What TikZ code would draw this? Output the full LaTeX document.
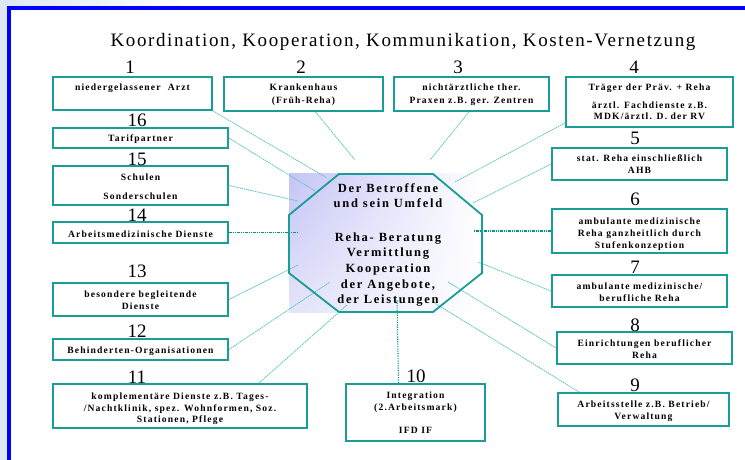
\documentclass[tikz,border=0pt]{standalone}
\usepackage{fontspec}
\usetikzlibrary{shadings}
\newfontfamily\titf[LetterSpace=8.5]{Liberation Serif}
\newfontfamily\bxf[LetterSpace=12]{Liberation Serif}
\newfontfamily\octf[LetterSpace=14]{Liberation Serif}
\newfontfamily\numf{Liberation Serif}
\definecolor{boxc}{RGB}{24,158,150}
\definecolor{conc}{RGB}{95,196,196}
\definecolor{dconc}{RGB}{0,146,146}
\definecolor{lav}{RGB}{196,196,246}
\definecolor{lavl}{RGB}{228,228,250}
\definecolor{bgl}{RGB}{222,232,242}
\definecolor{frame}{RGB}{0,0,250}
\newcommand\bx[5]{\node[box, minimum width={#4-#2}, minimum height={#5-#3}] (#1) at ({(#2+#4)/2},{(#3+#5)/2}) {};}
\newcommand\tl[4]{\node[txt] (#1) at (#2,#3) {#4};}
\newcommand\nm[4]{\node[num] (#1) at (#2,#3) {#4};}
\newcommand\ol[4]{\node[otxt] (#1) at (#2,#3) {#4};}
\begin{document}
\begin{tikzpicture}[x=1pt,y=-1pt,
  box/.style={draw=boxc, line width=1.8pt, rectangle, inner sep=0pt, fill=white},
  txt/.style={font=\bxf\bfseries\fontsize{9.6}{12}\selectfont, inner sep=0pt, anchor=base},
  num/.style={font=\numf\fontsize{19}{20}\selectfont, inner sep=0pt, anchor=base},
  otxt/.style={font=\octf\bfseries\fontsize{12.5}{15}\selectfont, inner sep=0pt, anchor=base},
  con/.style={draw=conc, line width=0.8pt, dash pattern=on 1.5pt off 0.7pt},
  dcon/.style={draw=dconc, line width=1.1pt, dash pattern=on 3pt off 1pt on 1pt off 1pt on 1pt off 1pt},
  dotcon/.style={draw=dconc, line width=1.1pt, dash pattern=on 1.2pt off 1.2pt}]
\useasboundingbox (0,0) rectangle (745,460);
\fill[white] (0,0) rectangle (745,460);
\shade[left color=bgl, right color=white] (0,0) rectangle (200,7);
\fill[bgl] (0,0) rectangle (8,460);
\draw[frame, line width=4pt, line join=miter] (9,460) -- (9,8) -- (745,8);

% title
\node[font=\titf\fontsize{19}{20}\selectfont, inner sep=0pt, anchor=base] (title) at (403,47) {Koordination, Kooperation, Kommunikation, Kosten-Vernetzung};

% octagon background shading
\shade[upper left=lav, upper right=white, lower left=lavl, lower right=white] (289,173) rectangle (482,312);

% named inner end points
\coordinate (c1) at (327,178);
\coordinate (c16) at (315,191);
\coordinate (c15) at (298,201);
\coordinate (c14) at (298,232.5);
\coordinate (c2) at (355,160);
\coordinate (c3) at (430,160);
\coordinate (c4) at (455,182);
\coordinate (c5) at (473,203);
\coordinate (c6) at (474,231);
\coordinate (c7) at (478,262);
\coordinate (c8) at (448,282);
\coordinate (c9) at (433,302);
\coordinate (c10) at (397,300);
\coordinate (c11) at (347,305);
\coordinate (c12) at (330,282);
\coordinate (c13) at (298,265);

% boxes
\bx{b1}{53}{77}{212}{110}
\bx{b2}{224}{77}{383}{111}
\bx{b3}{394}{77}{549}{111}
\bx{b4}{566}{77}{733}{127}
\bx{b16}{53}{128}{228}{148}
\bx{b15}{53}{166}{228}{205}
\bx{b14}{53}{222}{228}{243}
\bx{b5}{552}{148}{727}{180}
\bx{b6}{552}{209}{727}{253}
\bx{b7}{552}{275}{727}{307}
\bx{b13}{53}{283}{228}{316}
\bx{b12}{53}{339}{228}{360}
\bx{b11}{53}{384}{307}{428}
\bx{b10}{346}{384}{485}{441}
\bx{b8}{557}{332}{732}{364}
\bx{b9}{558}{393}{729}{426}

% connectors
\draw[con] (b1.south east) -- (c1);
\draw[con] (b16.east) -- (c16);
\draw[con] (b15.east) -- (c15);
\draw[dcon] (b14.east) -- (c14);
\draw[con] ([xshift=12pt]b2.south) -- (c2);
\draw[con] ([xshift=-2.5pt]b3.south) -- (c3);
\draw[con] ([yshift=5pt]b4.south west) -- (c4);
\draw[con] (b5.west) -- (c5);
\draw[dcon] (b6.west) -- (c6);
\draw[con] (b7.west) -- (c7);
\draw[con] (b8.west) -- (c8);
\draw[con] ([xshift=22pt]b9.north west) -- (c9);
\draw[dotcon] ([xshift=-17pt]b10.north) -- (c10);
\draw[con] ([xshift=-49pt]b11.north east) -- (c11);
\draw[con] (b12.east) -- (c12);
\draw[con] (b13.east) -- (c13);

% octagon
\draw[boxc, line width=1.8pt, line join=miter] (339,174) coordinate (o1) -- (433,174) coordinate (o2) -- (482,215) coordinate (o3) -- (482,273) coordinate (o4) -- (433,312) coordinate (o5) -- (339,312) coordinate (o6) -- (289,273) coordinate (o7) -- (289,215) coordinate (o8) -- cycle;

\ol{oa}{388}{192}{Der Betroffene}
\ol{ob}{388}{207.5}{und sein Umfeld}
\ol{oc}{388}{241}{Reha- Beratung}
\ol{od}{388}{256.5}{Vermittlung}
\ol{oe}{388}{272}{Kooperation}
\ol{of}{388}{288}{der Angebote,}
\ol{og}{388}{303.5}{der Leistungen}

% numbers
\nm{n1}{130}{74}{1}
\nm{n2}{301}{74}{2}
\nm{n3}{458}{74}{3}
\nm{n4}{634}{74}{4}
\nm{n16}{137}{127}{16}
\nm{n15}{137}{165}{15}
\nm{n14}{137}{221}{14}
\nm{n13}{137}{277}{13}
\nm{n12}{137}{337}{12}
\nm{n11}{137}{383}{11}
\nm{n10}{416}{382}{10}
\nm{n5}{635}{144}{5}
\nm{n6}{635}{205}{6}
\nm{n7}{635}{273}{7}
\nm{n8}{635}{331}{8}
\nm{n9}{635}{391}{9}

% box texts
\tl{t1}{132.5}{91}{niedergelassener\ \ Arzt}
\tl{t2a}{303.5}{91}{Krankenhaus}
\tl{t2b}{303.5}{103}{(Früh-Reha)}
\tl{t3a}{471.5}{91}{nichtärztliche ther.}
\tl{t3b}{471.5}{103}{Praxen z.B. ger. Zentren}
\tl{t4a}{649.5}{91}{Träger der Präv. + Reha}
\tl{t4b}{649.5}{109}{ärztl. Fachdienste z.B.}
\tl{t4c}{649.5}{120}{MDK/ärztl. D. der RV}
\tl{t16}{140.5}{142}{Tarifpartner}
\tl{t15a}{140.5}{180}{Schulen}
\tl{t15b}{140.5}{199}{Sonderschulen}
\tl{t14}{140.5}{237}{Arbeitsmedizinische Dienste}
\tl{t5a}{639.5}{161}{stat. Reha einschließlich}
\tl{t5b}{639.5}{173}{AHB}
\tl{t6a}{639.5}{224}{ambulante medizinische}
\tl{t6b}{639.5}{236}{Reha ganzheitlich durch}
\tl{t6c}{639.5}{248}{Stufenkonzeption}
\tl{t7a}{639.5}{289}{ambulante medizinische/}
\tl{t7b}{639.5}{301}{berufliche Reha}
\tl{t13a}{140.5}{297}{besondere begleitende}
\tl{t13b}{140.5}{309}{Dienste}
\tl{t12}{140.5}{353}{Behinderten-Organisationen}
\tl{t11a}{180}{399}{komplementäre Dienste z.B. Tages-}
\tl{t11b}{180}{411}{/Nachtklinik, spez. Wohnformen, Soz.}
\tl{t11c}{180}{422}{Stationen, Pflege}
\tl{t10a}{415.5}{398}{Integration}
\tl{t10b}{415.5}{410}{(2.Arbeitsmark)}
\tl{t10c}{415.5}{433}{IFD IF}
\tl{t8a}{644.5}{346}{Einrichtungen beruflicher}
\tl{t8b}{644.5}{358}{Reha}
\tl{t9a}{643.5}{407}{Arbeitsstelle z.B. Betrieb/}
\tl{t9b}{643.5}{419}{Verwaltung}
\end{tikzpicture}
\end{document}
